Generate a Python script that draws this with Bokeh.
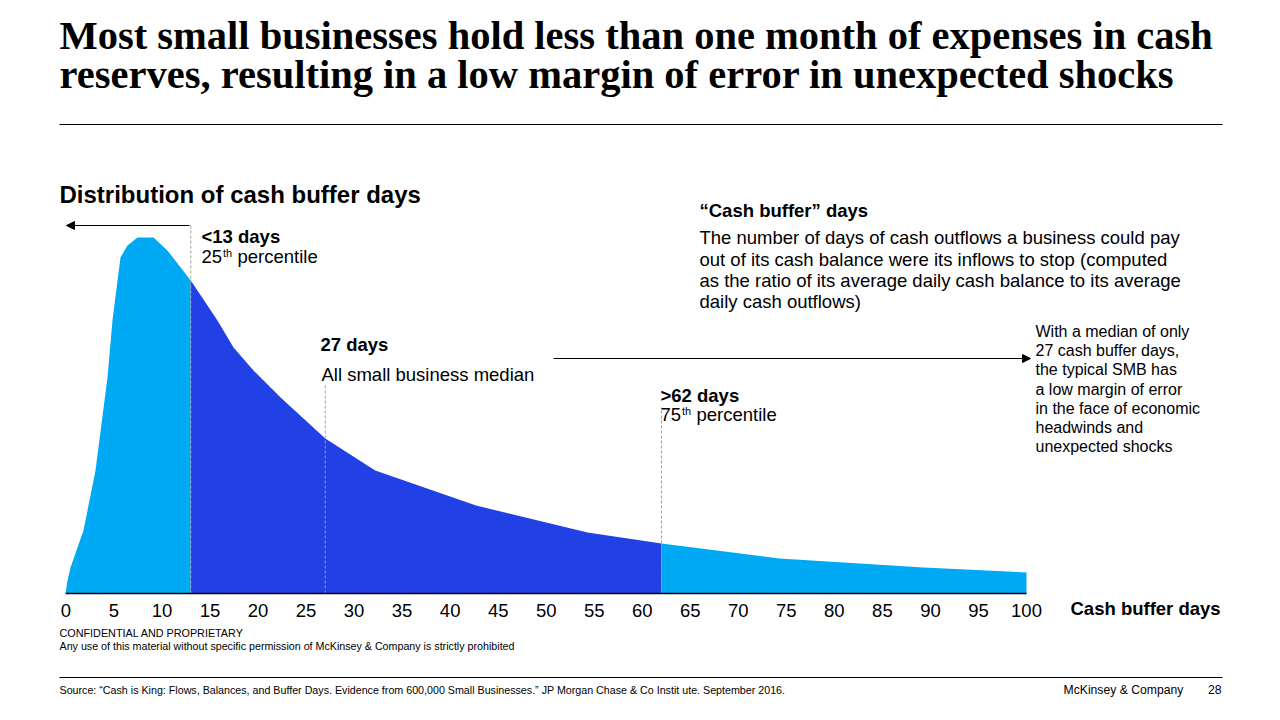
import numpy as np
from bokeh.plotting import figure
from bokeh.models import Range1d, LinearAxis, FixedTicker, Arrow, NormalHead
from bokeh.core.properties import value
from bokeh.embed import file_html
from bokeh.resources import INLINE

# ---------------- data ----------------
days = [0, 0.15, 0.48, 1.83, 3.08, 4.33, 4.85, 5.68, 6.41, 7.45, 9.12, 10.57, 13,
        15.78, 17.45, 19.53, 22.35, 27, 32.2, 42.7, 54.3, 62, 74.3, 89.3, 100]
share = [0.03, 0.12, 0.26, 0.63, 1.23, 2.16, 2.73, 3.36, 3.48, 3.56, 3.56, 3.43, 3.13,
         2.73, 2.46, 2.23, 1.96, 1.55, 1.23, 0.88, 0.61, 0.50, 0.35, 0.26, 0.21]
tick_days = [0, 5, 10, 15, 20, 25, 30, 35, 40, 45, 50, 55, 60, 65, 70, 75, 80, 85, 90, 95, 100]
band_edges = [0, 13, 62, 100]
marker_days = [13, 27, 62]

LIGHT = "#00A9F4"
DARK = "#2140E5"
SANS = value("Liberation Sans")
SERIF = value("Liberation Serif")

W, H = 1264, 704
px_per_day = 9.606
x0_px = 65.4          # position of day 0 inside the canvas
base_px = H - 593     # baseline height from bottom
px_per_unit = 100

p = figure(width=W, height=H, output_backend="svg", toolbar_location=None,
           x_axis_type=None, y_axis_type=None, min_border=0,
           x_range=Range1d(-x0_px / px_per_day, (W - x0_px) / px_per_day),
           y_range=Range1d(-base_px / px_per_unit, (H - base_px) / px_per_unit))
p.outline_line_color = None
p.background_fill_color = "white"
p.border_fill_color = "white"
# page-layout ranges (canvas pixel coordinates, y downward)
p.extra_x_ranges = {"px": Range1d(0, W)}
p.extra_y_ranges = {"py": Range1d(H, 0)}

# ---------------- area bands ----------------
d = np.array(days)
s = np.array(share)
colors = [LIGHT, DARK, LIGHT]
for i in range(3):
    m = (d >= band_edges[i]) & (d <= band_edges[i + 1])
    p.varea(x=d[m], y1=0, y2=s[m], fill_color=colors[i])

# dashed marker lines
tops = [3.68, 2.08, 1.86]
p.segment(x0=marker_days, y0=[0, 0, 0], x1=marker_days, y1=tops,
          line_color="#9E9E9E", line_width=1, line_dash="3 2")

# x axis at the baseline
ax = LinearAxis(ticker=FixedTicker(ticks=tick_days), fixed_location=0)
ax.bounds = (0, 100)
ax.axis_line_color = "black"
ax.axis_line_width = 1.5
ax.major_tick_line_color = None
ax.minor_tick_line_color = None
ax.major_tick_out = 0
ax.major_label_standoff = 10
ax.major_label_text_font = "Liberation Sans"
ax.major_label_text_font_size = "18.5px"
ax.major_label_text_color = "black"
p.add_layout(ax, "below")

# arrows
p.add_layout(Arrow(end=NormalHead(size=8, fill_color="black", line_color="black"),
                   x_start=189, y_start=225, x_end=66, y_end=225,
                   line_color="black", line_width=1.2,
                   x_range_name="px", y_range_name="py"))
p.add_layout(Arrow(end=NormalHead(size=8, fill_color="black", line_color="black"),
                   x_start=553, y_start=358, x_end=1030, y_end=358,
                   line_color="black", line_width=1.2,
                   x_range_name="px", y_range_name="py"))

# rules
p.segment(x0=[59, 59], y0=[124, 677], x1=[1222, 1222], y1=[124, 677],
          line_color="black", line_width=1.2, x_range_name="px", y_range_name="py")


def txt(x, y, t, size, bold=False, font=SANS, align="left"):
    p.text(x=[x], y=[y - 0.31 * size], text=[t], text_font=font, text_font_size=f"{size}px",
           text_font_style="bold" if bold else "normal", text_color="black",
           text_baseline="alphabetic", text_align=align,
           x_range_name="px", y_range_name="py")


# title
txt(59, 48, "Most small businesses hold less than one month of expenses in cash", 40.5, True, SERIF)
txt(59, 87, "reserves, resulting in a low margin of error in unexpected shocks", 40.5, True, SERIF)

# subtitle
txt(59, 201, "Distribution of cash buffer days", 24, True)

# 25th percentile
txt(201, 242, "<13 days", 18.5, True)
txt(201, 262, "25", 18.5)
txt(222.5, 256, "th", 11)
txt(237, 262, "percentile", 18.5)

# median
txt(320, 350, "27 days", 18.5, True)
txt(321, 380, "All small business median", 18.5)

# 75th percentile
txt(660, 401, ">62 days", 18.5, True)
txt(660, 420, "75", 18.5)
txt(681.5, 414, "th", 11)
txt(696, 420, "percentile", 18.5)

# definition
txt(699, 216, "\u201cCash buffer\u201d days", 18.5, True)
defn = ["The number of days of cash outflows a business could pay",
        "out of its cash balance were its inflows to stop (computed",
        "as the ratio of its average daily cash balance to its average",
        "daily cash outflows)"]
for i, line in enumerate(defn):
    txt(699, 243 + i * 21.3, line, 18.5)

# note
note = ["With a median of only", "27 cash buffer days,", "the typical SMB has",
        "a low margin of error", "in the face of economic", "headwinds and",
        "unexpected shocks"]
for i, line in enumerate(note):
    txt(1035, 336 + i * 19.2, line, 16)

# axis title
txt(1070, 614, "Cash buffer days", 18.5, True)

# footer
txt(59, 636, "CONFIDENTIAL AND PROPRIETARY", 10.8)
txt(59, 649, "Any use of this material without specific permission of McKinsey & Company is strictly prohibited", 10.7)
txt(59, 693, "Source: \u201cCash is King: Flows, Balances, and Buffer Days. Evidence from 600,000 Small Businesses.\u201d JP Morgan Chase & Co Instit ute. September 2016.", 10.7)
txt(1063, 693, "McKinsey & Company", 12.2)
txt(1221, 693, "28", 12.2, align="right")

open("out.html", "w").write(file_html(p, INLINE))
